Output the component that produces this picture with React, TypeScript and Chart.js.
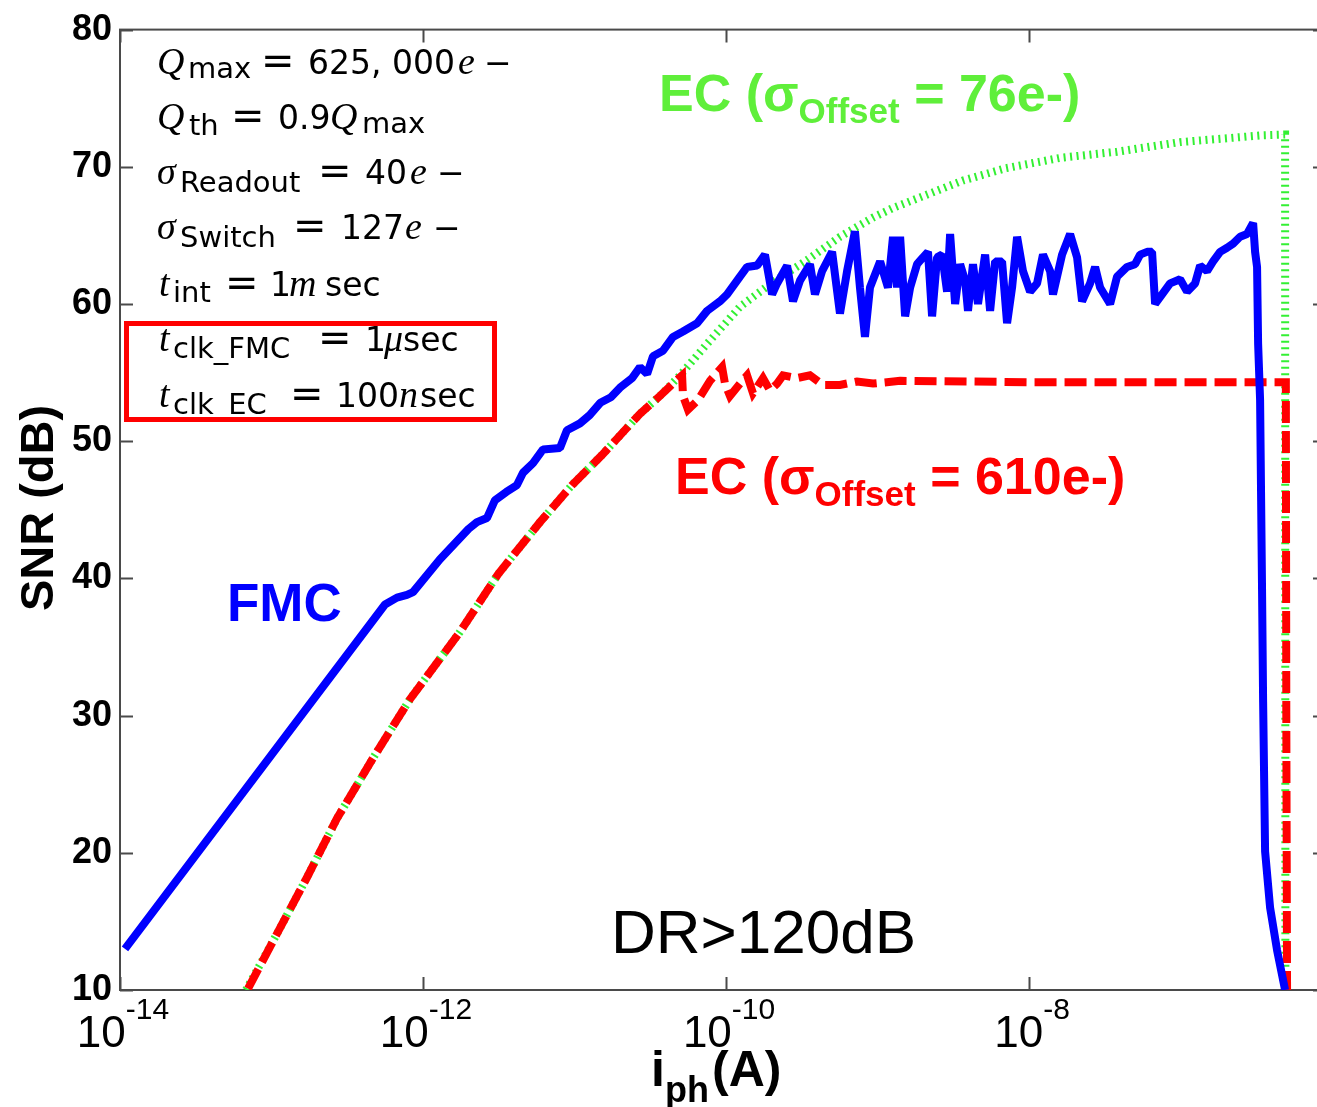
import React, { useEffect, useRef } from 'react';
import { Chart, registerables } from 'chart.js';

Chart.register(...registerables);

// ---- axes ----
const X_MIN_LOG = -14;
const X_MAX_LOG = -6.04;
const Y_MIN = 10;
const Y_MAX = 80;
const Y_STEP = 10;
const X_TICK_EXPONENTS = [-14, -12, -10, -8];
const Y_TICKS = [10, 20, 30, 40, 50, 60, 70, 80];

// ---- FMC (blue, solid) : log10(i_ph) and SNR (dB) ----
const fmcLogI = [
  -13.967, -12.251, -12.172, -12.106, -12.066, -11.888, -11.7, -11.644, -11.578, -11.525,
  -11.45, -11.38, -11.34, -11.274, -11.208, -11.096, -11.05, -10.964, -10.9, -10.83,
  -10.76, -10.7, -10.62, -10.568, -10.521, -10.482, -10.416, -10.35, -10.284, -10.191,
  -10.125, -10.04, -9.993, -9.908, -9.861, -9.795, -9.743, -9.696, -9.663, -9.597,
  -9.558, -9.512, -9.446, -9.413, -9.366, -9.3, -9.248, -9.201, -9.149, -9.116,
  -9.083, -9.05, -8.983, -8.931, -8.898, -8.871, -8.851, -8.818, -8.785, -8.739,
  -8.7, -8.667, -8.64, -8.607, -8.574, -8.541, -8.521, -8.488, -8.455, -8.422,
  -8.403, -8.37, -8.337, -8.29, -8.257, -8.224, -8.178, -8.145, -8.112, -8.079,
  -8.04, -7.993, -7.947, -7.908, -7.861, -7.842, -7.782, -7.729, -7.683, -7.65,
  -7.597, -7.564, -7.531, -7.465, -7.419, -7.353, -7.3, -7.267, -7.221, -7.188,
  -7.168, -7.122, -7.069, -7.003, -6.957, -6.904, -6.871, -6.825, -6.785, -6.739,
  -6.693, -6.653, -6.607, -6.561, -6.521, -6.508, -6.495, -6.488, -6.475, -6.462,
  -6.455, -6.442, -6.409, -6.363, -6.31,
];
const fmcSNR = [
  13.0, 38.1, 38.6, 38.8, 39.0, 41.4, 43.6, 44.1, 44.4, 45.7,
  46.3, 46.8, 47.7, 48.4, 49.4, 49.5, 50.8, 51.3, 51.9, 52.8,
  53.2, 53.9, 54.6, 55.4, 54.9, 56.2, 56.6, 57.6, 58.0, 58.6,
  59.5, 60.2, 60.7, 62.0, 62.7, 62.8, 63.6, 60.7, 61.5, 62.8,
  60.2, 61.7, 62.9, 60.7, 62.4, 63.8, 59.3, 62.4, 65.3, 61.2,
  57.6, 61.2, 63.1, 61.2, 64.9, 61.2, 64.9, 59.1, 61.2, 62.9,
  63.4, 63.8, 59.1, 63.4, 63.6, 60.9, 65.1, 60.0, 62.9, 61.7,
  59.5, 62.9, 60.0, 63.6, 59.5, 63.1, 63.1, 58.6, 61.2, 64.9,
  62.4, 60.9, 61.5, 63.6, 62.4, 60.7, 63.6, 65.1, 63.4, 60.2,
  61.5, 62.7, 61.2, 60.0, 62.0, 62.7, 62.9, 63.6, 63.8, 63.8,
  60.0, 60.7, 61.5, 61.8, 60.9, 61.5, 62.8, 62.4, 63.1, 63.8,
  64.1, 64.4, 64.9, 65.1, 65.9, 63.8, 62.7, 57.1, 53.0, 39.0,
  31.0, 20.1, 16.0, 12.9, 10.0,
];

// ---- EC, sigma_offset = 610e- (red, dashed) ----
const ec610LogI = [
  -13.155, -12.964, -12.766, -12.568, -12.33, -12.086, -11.756, -11.505, -11.228, -11.017,
  -10.818, -10.568, -10.436, -10.35, -10.29, -10.284, -10.251, -10.185, -10.106, -10.026,
  -10.007, -9.974, -9.908, -9.861, -9.822, -9.756, -9.71, -9.663, -9.624, -9.531,
  -9.446, -9.36, -9.248, -9.135, -9.03, -8.851, -8.0, -7.0, -6.305, -6.302, -6.297,
];
const ec610SNR = [
  10.1, 14.1, 18.2, 22.5, 26.9, 31.2, 36.1, 40.3, 44.1, 46.8,
  49.0, 52.0, 53.3, 54.2, 54.8, 53.3, 52.3, 53.0, 54.4, 55.4,
  54.2, 53.3, 54.2, 54.8, 53.5, 54.6, 53.7, 54.2, 54.8, 54.6,
  54.8, 54.1, 54.1, 54.35, 54.2, 54.4, 54.3, 54.3, 54.3, 30.0, 10.0,
];

// ---- EC, sigma_offset = 76e- (green, dotted) ----
const ec76LogI = [
  -13.168, -12.964, -12.766, -12.568, -12.33, -12.086, -11.756, -11.505, -11.228, -11.017,
  -10.818, -10.568, -10.436, -10.304, -10.125, -9.908, -9.69, -9.465, -9.248, -9.03,
  -8.898, -8.436, -8.152, -7.795, -7.419, -7.003, -6.455, -6.31, -6.308,
];
const ec76SNR = [
  10.0, 14.1, 18.2, 22.5, 26.9, 31.2, 36.1, 40.3, 44.1, 46.8,
  49.0, 52.0, 53.3, 54.8, 57.1, 59.8, 61.6, 63.2, 64.9, 66.3,
  67.0, 69.0, 69.9, 70.65, 71.1, 71.8, 72.3, 72.35, 10.0,
];

const toPoints = (logs: number[], vals: number[]) =>
  logs.map((l, i) => ({ x: Math.pow(10, l), y: vals[i] }));

const CANVAS_W = 1340;
const CANVAS_H = 1107;

const annotationPlugin = {
  id: 'annotations',
  beforeDraw(chart: any) {
    const ctx = chart.ctx;
    ctx.save();
    ctx.fillStyle = '#ffffff';
    ctx.fillRect(0, 0, chart.width, chart.height);
    ctx.restore();
  },
  beforeDatasetsDraw(chart: any) {
    const ctx = chart.ctx;
    const { left, right, top, bottom } = chart.chartArea;
    const xs = chart.scales.x;
    const ys = chart.scales.y;
    ctx.save();
    ctx.strokeStyle = '#4a4a4a';
    ctx.lineWidth = 2;
    ctx.strokeRect(left, top, right - left, bottom - top);
    const TL = 13;
    ctx.beginPath();
    X_TICK_EXPONENTS.forEach((e) => {
      const px = Math.round(xs.getPixelForValue(Math.pow(10, e))) + 0.5;
      ctx.moveTo(px, bottom);
      ctx.lineTo(px, bottom - TL);
      ctx.moveTo(px, top);
      ctx.lineTo(px, top + TL);
    });
    Y_TICKS.forEach((v) => {
      const py = Math.round(ys.getPixelForValue(v)) + 0.5;
      ctx.moveTo(left, py);
      ctx.lineTo(left + TL, py);
      ctx.moveTo(right, py);
      ctx.lineTo(right - TL, py);
    });
    ctx.stroke();
    ctx.restore();
  },
  afterDatasetsDraw(chart: any) {
    const ctx = chart.ctx;
    const xs = chart.scales.x;
    ctx.save();
    ctx.textAlign = 'left';
    ctx.textBaseline = 'alphabetic';

    // x tick labels 10^e
    X_TICK_EXPONENTS.forEach((e) => {
      const px = xs.getPixelForValue(Math.pow(10, e));
      ctx.font = '44px "Liberation Sans"';
      const w1 = ctx.measureText('10').width;
      ctx.font = '30px "Liberation Sans"';
      const sup = '-' + Math.abs(e);
      const w2 = ctx.measureText(sup).width;
      const start = px - (w1 + w2) / 2 + 3;
      ctx.fillStyle = '#000';
      ctx.font = '44px "Liberation Sans"';
      ctx.fillText('10', start, 1047);
      ctx.font = '30px "Liberation Sans"';
      ctx.fillText(sup, start + w1, 1019);
    });

    // axis titles
    ctx.fillStyle = '#000';
    ctx.font = 'bold 50px "Liberation Sans"';
    ctx.fillText('i', 651, 1086);
    ctx.font = 'bold 36px "Liberation Sans"';
    ctx.fillText('ph', 665, 1102);
    ctx.font = 'bold 50px "Liberation Sans"';
    ctx.fillText('(A)', 712, 1086);

    ctx.save();
    ctx.translate(53, 508);
    ctx.rotate(-Math.PI / 2);
    ctx.textAlign = 'center';
    ctx.font = 'bold 47px "Liberation Sans"';
    ctx.fillText('SNR (dB)', 0, 0);
    ctx.restore();

    // parameter block
    const IT = 'italic 38px "Liberation Serif"';
    const RM = '33px "DejaVu Sans"';
    const SUB = '29px "DejaVu Sans"';
    const EQ = '40px "DejaVu Sans"';
    type Seg = [string, string, number, number];
    const lines: { y: number; segs: Seg[] }[] = [
      { y: 74, segs: [['Q', IT, 157, 0], ['max', SUB, 188, 4], ['=', EQ, 261, 0], ['625, 000', RM, 308, 0], ['e', IT, 458, 0], ['\u2212', RM, 484, 0]] },
      { y: 129, segs: [['Q', IT, 157, 0], ['th', SUB, 189, 6], ['=', EQ, 231, 0], ['0.9', RM, 278, 0], ['Q', IT, 330, 0], ['max', SUB, 362, 4]] },
      { y: 184, segs: [['\u03c3', IT, 157, 0], ['Readout', SUB, 180, 8], ['=', EQ, 318, 0], ['40', RM, 365, 0], ['e', IT, 410, 0], ['\u2212', RM, 437, 0]] },
      { y: 239, segs: [['\u03c3', IT, 157, 0], ['Switch', SUB, 180, 8], ['=', EQ, 293, 0], ['127', RM, 341, 0], ['e', IT, 405, 0], ['\u2212', RM, 433, 0]] },
      { y: 296, segs: [['t', IT, 159, 0], ['int', SUB, 173, 6], ['=', EQ, 225, 0], ['1', RM, 270, 0], ['m', IT, 289, 0], ['sec', RM, 325, 0]] },
      { y: 351, segs: [['t', IT, 159, 0], ['clk_FMC', SUB, 173, 7], ['=', EQ, 318, 0], ['1', RM, 365, 0], ['\u03bc', IT, 384, 0], ['sec', RM, 403, 0]] },
      { y: 407, segs: [['t', IT, 159, 0], ['clk_EC', SUB, 173, 7], ['=', EQ, 290, 0], ['100', RM, 336, 0], ['n', IT, 399, 0], ['sec', RM, 420, 0]] },
    ];
    ctx.fillStyle = '#000';
    lines.forEach((ln) => {
      ln.segs.forEach(([t, f, x, dy]) => {
        ctx.font = f;
        ctx.fillText(t, x, ln.y + dy);
      });
    });

    // red box around the clock lines
    ctx.strokeStyle = '#ff0000';
    ctx.lineWidth = 5;
    ctx.strokeRect(126.5, 323.5, 368, 96);

    // series labels
    const drawLabel = (x: number, y: number, color: string, value: string) => {
      ctx.fillStyle = color;
      ctx.font = 'bold 52px "Liberation Sans"';
      ctx.fillText('EC (\u03c3', x, y);
      let cx = x + ctx.measureText('EC (\u03c3').width;
      ctx.font = 'bold 35px "Liberation Sans"';
      ctx.fillText('Offset', cx, y + 12);
      cx += ctx.measureText('Offset').width;
      ctx.font = 'bold 52px "Liberation Sans"';
      ctx.fillText(' = ' + value + ')', cx, y);
    };
    drawLabel(659, 111, '#5fef3a', '76e-');
    drawLabel(675, 494, '#ff0000', '610e-');

    ctx.fillStyle = '#0000ff';
    ctx.font = 'bold 53px "Liberation Sans"';
    ctx.fillText('FMC', 227, 621);

    ctx.fillStyle = '#000';
    ctx.font = '62px "Liberation Sans"';
    ctx.fillText('DR>120dB', 611, 953);

    ctx.restore();
  },
};

export default function App() {
  const ref = useRef<HTMLCanvasElement | null>(null);
  useEffect(() => {
    if (!ref.current) return;
    const chart = new Chart(ref.current, {
      type: 'line',
      data: {
        datasets: [
          {
            label: 'FMC',
            data: toPoints(fmcLogI, fmcSNR),
            borderColor: '#0000ff',
            borderWidth: 8,
            pointRadius: 0,
            tension: 0,
            borderJoinStyle: 'bevel',
          },
          {
            label: 'EC (610e-)',
            data: toPoints(ec610LogI, ec610SNR),
            borderColor: '#ff0000',
            borderWidth: 8,
            borderDash: [22, 8],
            pointRadius: 0,
            tension: 0,
          },
          {
            label: 'EC (76e-)',
            data: toPoints(ec76LogI, ec76SNR),
            borderColor: '#33f033',
            borderWidth: 8,
            borderDash: [2, 4.5],
            pointRadius: 0,
            tension: 0,
          },
        ],
      },
      options: {
        animation: false,
        responsive: false,
        devicePixelRatio: 1,
        parsing: false,
        normalized: true,
        layout: { padding: { left: 0, top: 24, right: CANVAS_W - 1326, bottom: 0 } },
        plugins: { legend: { display: false }, tooltip: { enabled: false }, title: { display: false } },
        scales: {
          x: {
            type: 'logarithmic',
            min: Math.pow(10, X_MIN_LOG),
            max: Math.pow(10, X_MAX_LOG),
            grid: { display: false, drawTicks: false },
            border: { display: false },
            ticks: { display: false },
            afterFit: (s: any) => { s.height = CANVAS_H - 990; },
          },
          y: {
            type: 'linear',
            min: Y_MIN,
            max: Y_MAX,
            grid: { display: false, drawTicks: false },
            border: { display: false },
            ticks: {
              stepSize: Y_STEP,
              padding: 8,
              color: '#000',
              font: { family: '"Liberation Sans"', size: 36, weight: 'bold' },
            },
            afterFit: (s: any) => { s.width = 120; },
          },
        },
      } as any,
      plugins: [annotationPlugin],
    });
    return () => chart.destroy();
  }, []);
  return (
    <div style={{ position: 'fixed', left: 0, top: 0, width: 1317, height: 1107, overflow: 'hidden', background: '#fff' }}>
      <canvas ref={ref} width={CANVAS_W} height={CANVAS_H} style={{ display: 'block', width: CANVAS_W, height: CANVAS_H }} />
    </div>
  );
}
